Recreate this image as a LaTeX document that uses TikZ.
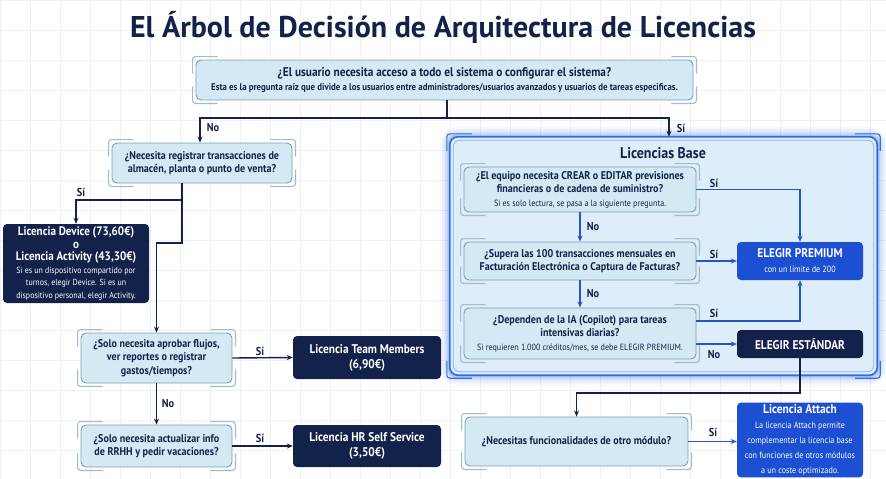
\documentclass[tikz,border=0pt]{standalone}
\usepackage{fontspec}
\setmainfont{PT Sans}[FakeStretch=0.9]
\newfontfamily\titlefont{PT Sans}
\usetikzlibrary{arrows.meta,calc}
\definecolor{navy}{HTML}{13224A}
\definecolor{qfill}{HTML}{D5E9F5}
\definecolor{qdraw}{HTML}{7E9CB2}
\definecolor{qacc}{HTML}{A3BBCB}
\definecolor{bblue}{HTML}{1C4FD2}
\definecolor{lblue}{HTML}{2456C8}
\definecolor{cblue}{HTML}{2F6FE0}
\definecolor{cfill}{HTML}{DDEDFA}
\definecolor{gridc}{HTML}{EDF1F5}
\newcommand\qcorners[2][qacc]{%
  \draw[#1, line width=1.1pt, rounded corners=3pt]
    ([xshift=22pt,yshift=3pt]#2.north west) -- ([xshift=-3pt,yshift=3pt]#2.north west) -- ([xshift=-3pt,yshift=-14pt]#2.north west);
  \draw[#1, line width=1.1pt, rounded corners=3pt]
    ([xshift=-22pt,yshift=3pt]#2.north east) -- ([xshift=3pt,yshift=3pt]#2.north east) -- ([xshift=3pt,yshift=-14pt]#2.north east);
  \draw[#1, line width=1.1pt, rounded corners=3pt]
    ([xshift=22pt,yshift=-3pt]#2.south west) -- ([xshift=-3pt,yshift=-3pt]#2.south west) -- ([xshift=-3pt,yshift=14pt]#2.south west);
  \draw[#1, line width=1.1pt, rounded corners=3pt]
    ([xshift=-22pt,yshift=-3pt]#2.south east) -- ([xshift=3pt,yshift=-3pt]#2.south east) -- ([xshift=3pt,yshift=14pt]#2.south east);
}
\tikzset{
  qbox/.style={draw=qdraw, fill=qfill, line width=0.9pt, rounded corners=5pt, align=center,
    text=navy, font=\bfseries\fontsize{11.2}{13.5}\selectfont, inner sep=2pt},
  darkbox/.style={fill=navy, rounded corners=4pt, align=center, text=white,
    font=\bfseries\fontsize{12.6}{15}\selectfont, inner sep=2pt},
  bluebox/.style={fill=bblue, rounded corners=4pt, align=center, text=white,
    font=\bfseries\fontsize{12.6}{15}\selectfont, inner sep=2pt},
  conn/.style={draw=navy, line width=1.4pt, -{Stealth[length=6pt,width=5pt]}},
  plain/.style={draw=navy, line width=1.4pt},
  bconn/.style={draw=lblue, line width=1.4pt, -{Stealth[length=6pt,width=5pt]}},
  lab/.style={font=\bfseries\fontsize{11.5}{13}\selectfont, text=navy, inner sep=0pt}
}
\newcommand\smtxt{\mdseries\fontsize{9}{10.5}\selectfont}
\newcommand\smdev{\mdseries\fontsize{8.8}{9.8}\selectfont}
\begin{document}
\begin{tikzpicture}[x=1pt,y=-1pt]
\useasboundingbox (0,0) rectangle (886,479);
\fill[white] (0,0) rectangle (886,479);
\foreach \i in {0,30,...,870} \draw[gridc, line width=0.5pt] (\i,0) -- (\i,479);
\foreach \j in {0,30,...,470} \draw[gridc, line width=0.5pt] (0,\j) -- (886,\j);

% title
\node[font=\titlefont\bfseries\fontsize{30}{34}\selectfont, text=navy] (title) at (443,27) {El Árbol de Decisión de Arquitectura de Licencias};

% container
\node[minimum width=427, minimum height=238, inner sep=0pt] (base) at (663.5,256) {};
\foreach \w/\o in {20/0.05,15/0.07,10/0.1,6/0.15,3/0.22}
  \draw[cblue, line width=\w pt, opacity=\o, rounded corners=8pt] (base.north west) rectangle (base.south east);
\fill[cfill, rounded corners=8pt] (base.north west) rectangle (base.south east);
\draw[cblue, line width=1.6pt, rounded corners=8pt] (base.north west) rectangle (base.south east);
\draw[cblue!55, line width=0.7pt, rounded corners=6pt] ([shift={(3.5pt,-3.5pt)}]base.north west) rectangle ([shift={(-3.5pt,3.5pt)}]base.south east);
\qcorners[cblue]{base}
\node[font=\bfseries\fontsize{15.5}{18}\selectfont, text=navy] (basetitle) at (663,153) {Licencias Base};

% left tree
\node[qbox, minimum width=497, minimum height=40] (root) at (444.5,80)
  {{\fontsize{12.6}{14}\selectfont ¿El usuario necesita acceso a todo el sistema o configurar el sistema?}\\{\fontsize{9.8}{11.5}\selectfont Esta es la pregunta raíz que divide a los usuarios entre administradores/usuarios avanzados y usuarios de tareas especificas.}};
\node[qbox, minimum width=180, minimum height=40] (q2) at (202,163)
  {¿Necesita registrar transacciones de\\almacén, planta o punto de venta?};
\node[darkbox, minimum width=146, minimum height=79, font=\bfseries\fontsize{12.3}{12.6}\selectfont] (device) at (76,263.5)
  {Licencia Device (73,60€)\\o\\Licencia Activity (43,30€)\\{\smdev Si es un dispositivo compartido por}\\{\smdev turnos, elegir Device. Si es un}\\{\smdev dispositivo personal, elegir Activity.}};
\node[qbox, minimum width=151, minimum height=50] (q3) at (156.5,358)
  {¿Solo necesita aprobar flujos,\\ver reportes o registrar\\gastos/tiempos?};
\node[darkbox, minimum width=148, minimum height=43] (team) at (367,357.5)
  {Licencia Team Members\\(6,90€)};
\node[qbox, minimum width=151, minimum height=42] (q4) at (156.5,446)
  {¿Solo necesita actualizar info\\de RRHH y pedir vacaciones?};
\node[darkbox, minimum width=148, minimum height=42] (hr) at (367,446)
  {Licencia HR Self Service\\(3,50€)};

% right tree
\node[qbox, minimum width=232, minimum height=45] (q5) at (580,189.5)
  {¿El equipo necesita CREAR o EDITAR previsiones\\financieras o de cadena de suministro?\\{\smtxt Si es solo lectura, se pasa a la siguiente pregunta.}};
\node[qbox, minimum width=232, minimum height=38] (q6) at (580,261)
  {¿Supera las 100 transacciones mensuales en\\Facturación Electrónica o Captura de Facturas?};
\node[qbox, minimum width=232, minimum height=51] (q7) at (580,333.5)
  {¿Dependen de la IA (Copilot) para tareas\\intensivas diarias?\\{\smtxt Si requieren 1.000 créditos/mes, se debe ELEGIR PREMIUM.}};
\node[bluebox, minimum width=126, minimum height=38] (premium) at (800,261)
  {ELEGIR PREMIUM\\{\smtxt con un límite de 200}};
\node[darkbox, minimum width=126, minimum height=28] (std) at (800,344)
  {ELEGIR ESTÁNDAR};
\node[qbox, minimum width=223, minimum height=49] (q8) at (576.5,441.5)
  {¿Necesitas funcionalidades de otro módulo?};
\node[bluebox, minimum width=126, minimum height=64] (attach) at (800,440)
  {{\fontsize{12.7}{14}\selectfont Licencia Attach}\\{\smtxt La licencia Attach permite}\\{\smtxt complementar la licencia base}\\{\smtxt con funciones de otros módulos}\\{\smtxt a un coste optimizado.}};

\foreach \n in {root,q2,q3,q4,q5,q6,q7,q8} {\qcorners{\n}}

% connectors
\coordinate (split) at (447,118);
\coordinate (j1) at (182,200);
\coordinate (j2) at (182,243);
\coordinate (j3) at (800,393);
\coordinate (lft) at (200,118);
\draw[plain] (root.south -| split) -- (split);
\draw[conn] (split) -- (lft) -- (lft |- q2.north);
\draw[conn] (split) -| ([xshift=5.5pt]base.north);
\node[lab] (lno1) at (213,128) {No};
\node[lab] (lsi1) at (681,128) {Sí};

\draw[plain] (q2.south -| j1) -- (j1);
\draw[conn] (j1) -| (device.north);
\node[lab] (lsi2) at (81,192) {Sí};
\draw[conn] (j1) -- (j2) -| (q3.north);

\draw[conn] (q3.east) -- (team.west);
\node[lab] (lsi3) at (260,351) {Sí};
\draw[conn] (q3.south) -- (q4.north);
\node[lab] (lno3) at (168,404) {No};
\draw[conn] (q4.east) -- (hr.west);
\node[lab] (lsi4) at (260,438) {Sí};

\draw[bconn] (q5.east) -| (premium.north);
\node[lab] (lsi5) at (714,183) {Sí};
\draw[bconn] (q5.south) -- (q6.north);
\node[lab] (lno5) at (593,227) {No};
\draw[bconn] (q6.east) -- (premium.west);
\node[lab] (lsi6) at (714,254) {Sí};
\draw[bconn] (q6.south) -- (q7.north);
\node[lab] (lno6) at (593,294) {No};
\draw[bconn] ([yshift=12.5pt]q7.east) -| (premium.south);
\node[lab] (lsi7) at (714,313) {Sí};
\draw[bconn] (q7.east |- std.west) -- (std.west);
\node[lab] (lno7) at (714,355) {No};

\draw[conn] (std.south) -- (j3) -| (q8.north);
\draw[bconn] (q8.east) -- (q8.east -| attach.west);
\node[lab] (lsi8) at (713,432) {Sí};
\end{tikzpicture}
\end{document}
